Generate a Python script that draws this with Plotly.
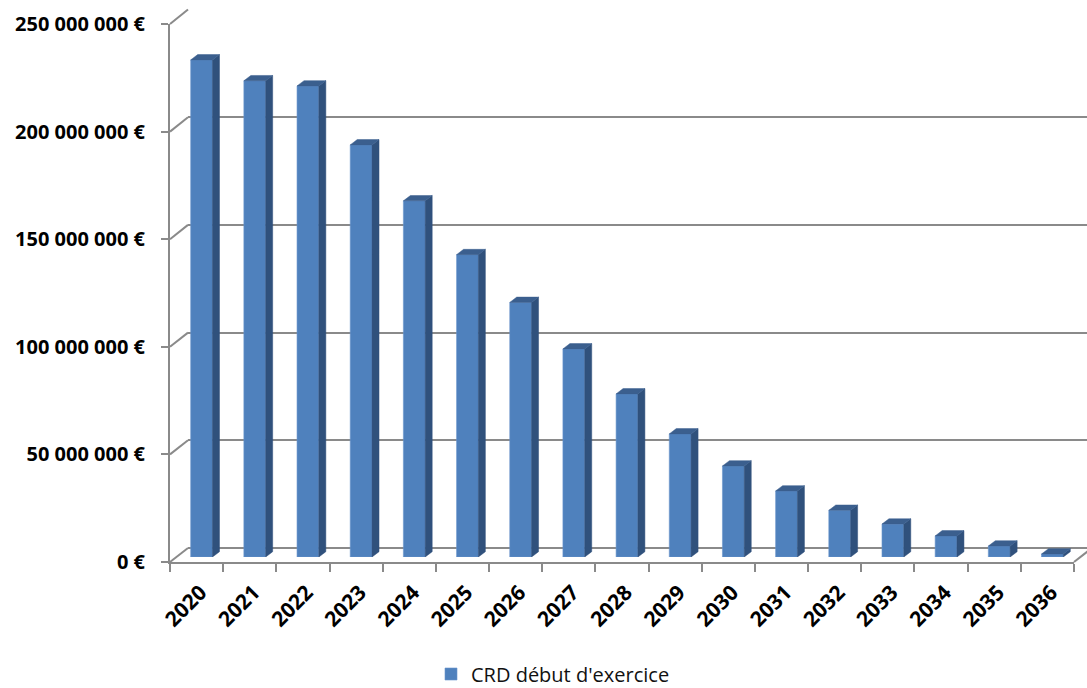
import plotly.graph_objects as go

# ---- data ----
years = [str(y) for y in range(2020, 2037)]
crd_values = [231.0e6, 221.3e6, 218.9e6, 191.5e6, 165.5e6, 140.5e6, 118.3e6, 96.7e6,
              75.8e6, 57.2e6, 42.3e6, 30.7e6, 21.7e6, 15.3e6, 9.8e6, 5.1e6, 1.4e6]
series_name = "CRD début d'exercice"
tick_values = [0, 50e6, 100e6, 150e6, 200e6, 250e6]
tick_labels = [f"{int(v):,}".replace(",", " ") + " €" for v in tick_values]

W, H = 1087, 688
YMAX = 250e6

def fx(px):
    return px / W

def fy(py):
    return (H - py) / H

# geometry (pixels)
front_x = (170, 1074); front_y = (562, 24)     # front plane (axis labels)
back_x = (188, 1087); back_y = (548, 9.5)      # back wall (gridlines)
bar_x = (175, 1079); bar_y = (557, 19)          # bar front faces
bar_w = 0.41
depth_px = (7, 5.3)

grid_col = "#8A8A8A"
front_col = "#4F81BD"
side_col = "#30517C"
top_col = "#3B5F8E"

n = len(years)
unit_px = (bar_x[1] - bar_x[0]) / n
dxu = depth_px[0] / unit_px
dyv = depth_px[1] / ((bar_y[0] - bar_y[1]) / YMAX)

fig = go.Figure()

# invisible trace to carry the front category axis
fig.add_trace(go.Scatter(x=years, y=crd_values, mode="none", showlegend=False,
                         hoverinfo="skip", xaxis="x", yaxis="y"))
# invisible trace on back wall axis
fig.add_trace(go.Scatter(x=list(range(n)), y=crd_values, mode="none", showlegend=False,
                         hoverinfo="skip", xaxis="x2", yaxis="y2"))

# bar front faces
xs = list(range(n))
fig.add_trace(go.Bar(x=xs, y=crd_values, width=bar_w, name=series_name,
                     marker=dict(color=front_col, line=dict(width=0.6, color="#6A96CC")),
                     xaxis="x3", yaxis="y3", hoverinfo="skip"))

# side faces
sx, sy = [], []
for i, v in enumerate(crd_values):
    r = i + bar_w / 2
    sx += [r, r + dxu, r + dxu, r, r, None]
    sy += [0, dyv, v + dyv, v, 0, None]
fig.add_trace(go.Scatter(x=sx, y=sy, mode="lines", fill="toself", fillcolor=side_col,
                         line=dict(width=0.5, color=side_col), showlegend=False,
                         hoverinfo="skip", xaxis="x3", yaxis="y3"))
# top faces
tx, ty = [], []
for i, v in enumerate(crd_values):
    l = i - bar_w / 2
    r = i + bar_w / 2
    tx += [l, l + dxu, r + dxu, r, l, None]
    ty += [v, v + dyv, v + dyv, v, v, None]
fig.add_trace(go.Scatter(x=tx, y=ty, mode="lines", fill="toself", fillcolor=top_col,
                         line=dict(width=0.5, color=top_col), showlegend=False,
                         hoverinfo="skip", xaxis="x3", yaxis="y3"))

# diagonal connectors (side wall) for each gridline + right floor edge
shapes = []
for v in tick_values:
    y0 = front_y[0] - v / YMAX * (front_y[0] - front_y[1])
    y1 = back_y[0] - v / YMAX * (back_y[0] - back_y[1])
    shapes.append(dict(type="line", xref="paper", yref="paper",
                       x0=fx(front_x[0]), y0=fy(y0), x1=fx(back_x[0]), y1=fy(y1),
                       line=dict(color=grid_col, width=2)))
slope = (front_y[0] - back_y[0]) / (back_x[0] - front_x[0])
shapes.append(dict(type="line", xref="paper", yref="paper",
                   x0=fx(front_x[1]), y0=fy(front_y[0]),
                   x1=fx(front_x[1] + 18), y1=fy(front_y[0] - 18 * slope),
                   line=dict(color=grid_col, width=2)))

tick_font = dict(family="Open Sans", size=20, color="#000000", weight="bold")
xtick_font = dict(family="Open Sans", size=21, color="#000000", weight="bold")

fig.update_layout(
    template="none",
    width=W, height=H,
    margin=dict(l=0, r=0, t=0, b=0, autoexpand=False),
    paper_bgcolor="white", plot_bgcolor="rgba(0,0,0,0)",
    showlegend=True,
    legend=dict(orientation="h", x=fx(431), xanchor="left", y=fy(674), yanchor="middle",
                bgcolor="rgba(0,0,0,0)",
                font=dict(family="Open Sans", size=20, color="#111111")),
    shapes=shapes,
    xaxis=dict(domain=[fx(front_x[0]), fx(front_x[1])], type="category",
               categoryorder="array", categoryarray=years, automargin=False,
               range=[-0.5, n - 0.5], autorange=False,
               showline=True, linecolor=grid_col, linewidth=2,
               ticks="outside", ticklen=8, tickwidth=2, tickcolor=grid_col,
               tickson="boundaries", tickangle=-45, tickfont=xtick_font,
               ticklabelshift=4, ticklabelstandoff=8,
               showgrid=False, zeroline=False, fixedrange=True, anchor="y"),
    yaxis=dict(domain=[fy(front_y[0]), fy(front_y[1])], range=[0, YMAX], automargin=False,
               tickvals=tick_values, ticktext=tick_labels, tickfont=tick_font,
               showline=True, linecolor=grid_col, linewidth=2,
               ticks="outside", ticklen=7, tickwidth=2, tickcolor=grid_col,
               ticklabelstandoff=12,
               showgrid=False, zeroline=False, fixedrange=True, anchor="x"),
    xaxis2=dict(domain=[fx(back_x[0]), 1], range=[-0.5, n - 0.5], visible=False,
                anchor="y2", fixedrange=True, automargin=False),
    yaxis2=dict(domain=[fy(back_y[0]), fy(back_y[1])], range=[0, YMAX],
                tickvals=tick_values, showticklabels=False, ticks="", automargin=False,
                showgrid=True, gridcolor=grid_col, gridwidth=2,
                zeroline=True, zerolinecolor=grid_col, zerolinewidth=2,
                showline=False, anchor="x2", fixedrange=True),
    xaxis3=dict(domain=[fx(bar_x[0]), fx(bar_x[1])], range=[-0.5, n - 0.5], visible=False,
                anchor="y3", fixedrange=True, automargin=False),
    yaxis3=dict(domain=[fy(bar_y[0]), fy(bar_y[1])], range=[0, YMAX], visible=False,
                anchor="x3", fixedrange=True, automargin=False),
)

fig.write_html("out.html")
